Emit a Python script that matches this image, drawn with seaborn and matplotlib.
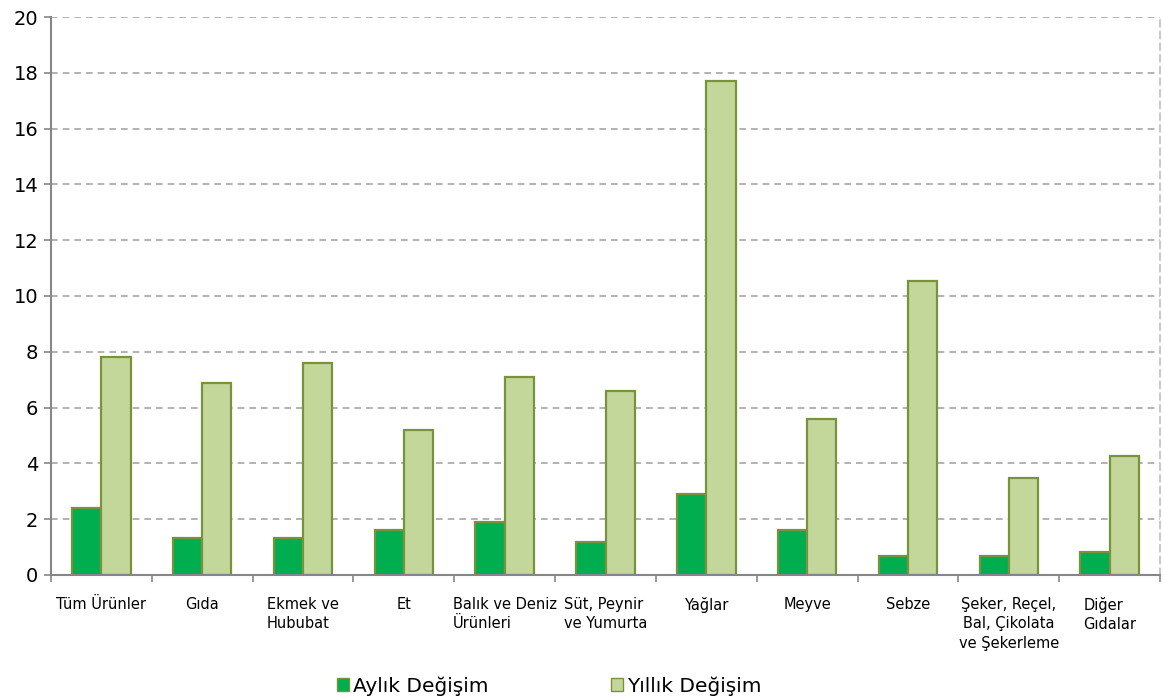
import numpy as np
import pandas as pd
import matplotlib
matplotlib.use('Agg')
import matplotlib.pyplot as plt
import seaborn as sns
from matplotlib.patches import Patch

categories = [
    'Tüm Ürünler', 'Gıda', 'Ekmek ve\nHububat', 'Et', 'Balık ve Deniz\nÜrünleri',
    'Süt, Peynir\nve Yumurta', 'Yağlar', 'Meyve', 'Sebze',
    'Şeker, Reçel,\nBal, Çikolata\nve Şekerleme', 'Diğer\nGıdalar',
]
aylik = [2.4, 1.33, 1.33, 1.6, 1.9, 1.18, 2.9, 1.6, 0.68, 0.68, 0.82]
yillik = [7.81, 6.88, 7.6, 5.2, 7.1, 6.6, 17.7, 5.6, 10.54, 3.48, 4.27]
series_names = ['Aylık Değişim', 'Yıllık Değişim']
y_ticks = [0, 2, 4, 6, 8, 10, 12, 14, 16, 18, 20]

COL_MONTH = '#00AD4F'
COL_YEAR = '#C4D79B'
EDGE = '#77933C'

df = pd.DataFrame({
    'Kategori': categories * 2,
    'Seri': [series_names[0]] * len(categories) + [series_names[1]] * len(categories),
    'Deger': aylik + yillik,
})

sns.set_style('white')
plt.rcParams['font.family'] = ['DejaVu Sans']
plt.rcParams['text.color'] = 'black'

fig = plt.figure(figsize=(11.64, 7.0), dpi=100)
ax = fig.add_axes([0.0438, 0.1786, 0.9528, 0.7971])

sns.barplot(data=df, x='Kategori', y='Deger', hue='Seri', order=categories,
            hue_order=series_names, palette=[COL_MONTH, COL_YEAR], width=0.58,
            edgecolor=EDGE, linewidth=1.6, saturation=1, legend=False, ax=ax)

ax.set_xlim(-0.5, len(categories) - 0.5)
ax.set_ylim(0, 20)
ax.set_yticks(y_ticks)
ax.set_xlabel('')
ax.set_ylabel('')

ax.yaxis.grid(True, linestyle=(0, (4, 3)), color='#A6A6A6', linewidth=1.2)
ax.set_axisbelow(True)

for s in ['left', 'bottom']:
    ax.spines[s].set_color('#868686')
    ax.spines[s].set_linewidth(1.5)
ax.spines['top'].set_visible(False)
ax.spines['right'].set_color('#BFBFBF')
ax.spines['right'].set_linestyle((0, (4, 3)))
ax.spines['right'].set_linewidth(1.2)

ax.tick_params(axis='y', left=True, labelsize=14, labelcolor='black', length=5,
               color='#868686', width=1.2, direction='out', pad=4)

# category labels at centers, tick marks at the boundaries
ax.set_xticks(range(len(categories)))
ax.set_xticklabels(categories, fontsize=10.5, linespacing=1.4)
for lab in ax.get_xticklabels():
    lab.set_verticalalignment('top')
    if lab.get_text().startswith('Şeker'):
        lab.set_multialignment('center')
    else:
        lab.set_multialignment('left')
ax.tick_params(axis='x', which='major', bottom=False, labelcolor='black', pad=12)
ax.set_xticks(np.arange(-0.5, len(categories), 1), minor=True)
ax.tick_params(axis='x', which='minor', bottom=True, length=5, color='#868686',
               width=1.2, direction='out')

handles = [Patch(facecolor=COL_MONTH, edgecolor=EDGE, linewidth=1),
           Patch(facecolor=COL_YEAR, edgecolor=EDGE, linewidth=1)]
fig.legend(handles, series_names, loc='center', bbox_to_anchor=(0.472, 0.02), ncol=2,
           frameon=False, fontsize=14.5, handlelength=0.6, handleheight=0.6,
           handletextpad=0.2, columnspacing=6.1)

fig.savefig('out.png', dpi=100)
